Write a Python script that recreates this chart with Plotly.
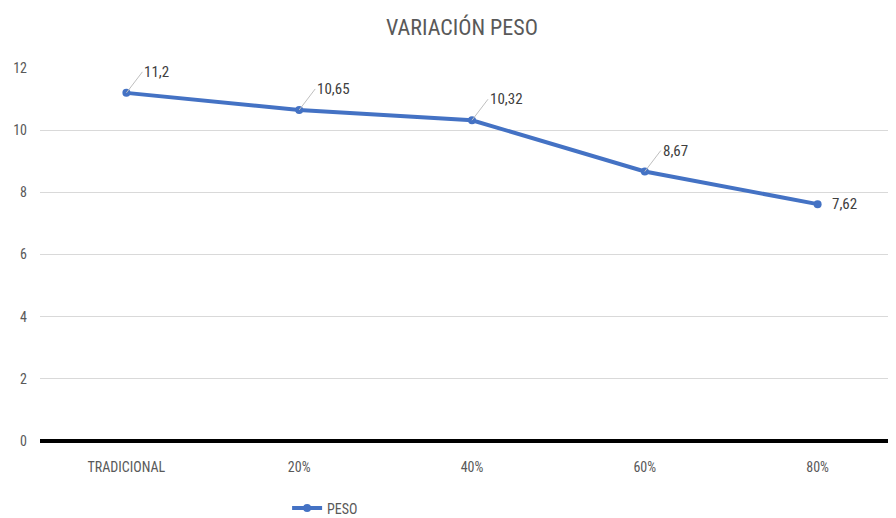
import plotly.graph_objects as go

categories = ["TRADICIONAL", "20%", "40%", "60%", "80%"]
peso = [11.2, 10.65, 10.32, 8.67, 7.62]
labels = ["11,2", "10,65", "10,32", "8,67", "7,62"]
series_name = "PESO"
title = "VARIACIÓN PESO"

FONT = "Liberation Sans Narrow, Arial Narrow, Roboto Condensed, sans-serif"
BLUE = "#4472C4"
GREY = "#595959"

fig = go.Figure()
fig.add_trace(go.Scatter(
    x=categories, y=peso, mode="lines+markers", name=series_name,
    line=dict(color=BLUE, width=4), marker=dict(color=BLUE, size=8),
))

annotations = []
for i, (c, v, t) in enumerate(zip(categories, peso, labels)):
    if i < len(categories) - 1:
        annotations.append(dict(
            x=c, y=v, xref="x", yref="y", text=t, showarrow=True,
            arrowhead=0, arrowwidth=1, arrowcolor="#bfbfbf",
            ax=16, ay=-21, xanchor="left", yanchor="middle",
            font=dict(family=FONT, size=15, color="#404040"),
        ))
    else:
        annotations.append(dict(
            x=c, y=v, xref="x", yref="y", text=t, showarrow=False,
            xanchor="left", yanchor="middle", xshift=12,
            font=dict(family=FONT, size=15, color="#404040"),
        ))

fig.update_layout(
    width=896, height=518,
    paper_bgcolor="white", plot_bgcolor="white",
    margin=dict(l=32, r=0, t=60, b=85),
    title=dict(text=title, x=0.5 + 6 / 896, xanchor="center", y=0.963, yanchor="middle",
               font=dict(family=FONT, size=22, color=GREY)),
    font=dict(family=FONT, color=GREY),
    showlegend=True,
    legend=dict(orientation="h", x=0.286, xanchor="left", y=-0.181, yanchor="middle",
                font=dict(family=FONT, size=14, color=GREY)),
    annotations=annotations,
    xaxis=dict(type="category", range=[-0.5, 4.5], showgrid=False, showline=False,
               zeroline=False, ticks="", ticklabelstandoff=16,
               tickfont=dict(family=FONT, size=14, color=GREY)),
    yaxis=dict(range=[0, 12], dtick=2, showgrid=True, gridcolor="#d9d9d9", gridwidth=1,
               zeroline=True, zerolinecolor="black", zerolinewidth=4,
               showline=False, ticks="", ticklabelstandoff=12,
               tickfont=dict(family=FONT, size=14, color=GREY)),
)

fig.write_html("out.html")
